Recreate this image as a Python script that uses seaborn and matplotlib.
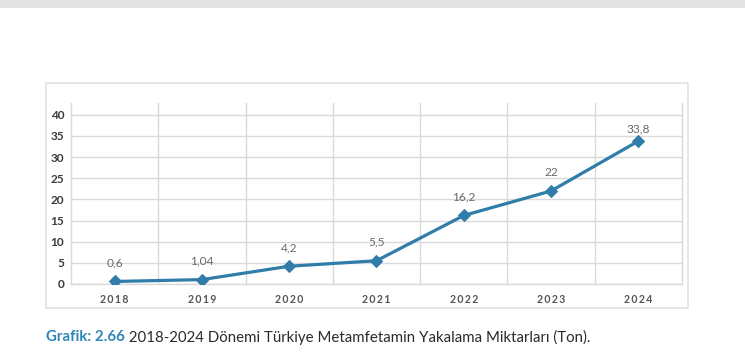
import matplotlib
matplotlib.use("Agg")
import matplotlib.pyplot as plt
from matplotlib.patches import Rectangle
import seaborn as sns
import pandas as pd

years = [2018, 2019, 2020, 2021, 2022, 2023, 2024]
values = [0.6, 1.04, 4.2, 5.5, 16.2, 22, 33.8]
value_labels = ["0,6", "1,04", "4,2", "5,5", "16,2", "22", "33,8"]
y_ticks = [0, 5, 10, 15, 20, 25, 30, 35, 40]
caption_bold = "Grafik: 2.66"
caption_text = " 2018-2024 Dönemi Türkiye Metamfetamin Yakalama Miktarları (Ton)."

sns.set_theme(style="white")
plt.rcParams["font.family"] = ["Lato", "DejaVu Sans"]

df = pd.DataFrame({"year": years, "value": values})

fig = plt.figure(figsize=(7.45, 3.53), dpi=100)
ax = fig.add_axes([71/745, 1-284/353, (682-71)/745, (284-103)/353])

line_color = "#2f7da8"
grid_color = "#d9d9d9"

sns.lineplot(data=df, x="year", y="value", ax=ax, color=line_color, linewidth=2.3,
             marker="D", markersize=6.5, markeredgecolor=line_color, zorder=5)

ax.set_xlim(years[0] - 0.5, years[-1] + 0.5)
ax.set_ylim(0, 42.8)
ax.set_yticks(y_ticks)
ax.set_yticklabels([str(t) for t in y_ticks], fontsize=8.5, fontweight="bold", color="#3a3a3a")
ax.set_xticks(years)
ax.set_xticklabels(["\u2009".join(str(y)) for y in years], fontsize=7.6,
                   fontweight="bold", color="#555555")
ax.set_xticks([y + 0.5 for y in years[:-1]], minor=True)
ax.tick_params(axis="y", length=0, pad=5)
ax.tick_params(axis="x", which="both", length=0, pad=7)
ax.grid(axis="y", which="major", color=grid_color, linewidth=1)
ax.grid(axis="x", which="minor", color=grid_color, linewidth=1)
ax.grid(axis="x", which="major", visible=False)
ax.set_xlabel("")
ax.set_ylabel("")
for side in ["left", "right", "bottom"]:
    ax.spines[side].set_visible(True)
    ax.spines[side].set_color(grid_color)
    ax.spines[side].set_linewidth(1)
ax.spines["top"].set_visible(False)

for x, v, lab in zip(years, values, value_labels):
    off = 5 if v > 30 else 9.5
    ax.annotate(lab, (x, v), xytext=(0, off), textcoords="offset points",
                ha="center", va="bottom", fontsize=8.6, color="#686868")

# outer frame
fig.patches.append(Rectangle((46/745, 1-308/353), 642/745, 225/353, transform=fig.transFigure,
                             fill=False, edgecolor="#e2e2e2", linewidth=1.2, zorder=0))
# top band
fig.patches.append(Rectangle((0, 1-8/353), 1, 8/353, transform=fig.transFigure,
                             facecolor="#e3e3e3", edgecolor="none", zorder=0))

t1 = fig.text(46/745, 1-337/353, caption_bold, fontsize=10.8, fontweight="bold",
              color="#2e86b8", va="center", ha="left")
fig.canvas.draw()
bb = t1.get_window_extent()
fig.text(bb.x1/745, 1-337/353, caption_text, fontsize=10.8, color="#2b2b2b",
         va="center", ha="left")

fig.savefig("out.png", dpi=100)
